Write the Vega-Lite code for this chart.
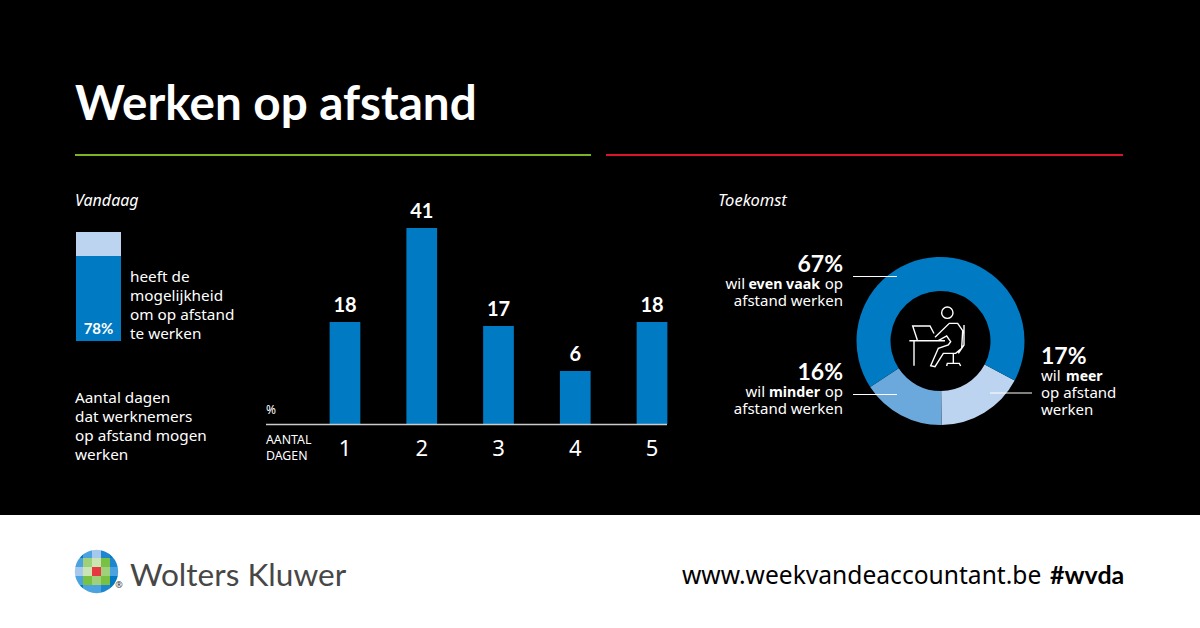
{
"$schema":"https://vega.github.io/schema/vega-lite/v6.json",
"width":1200,"height":628,"padding":0,"autosize":{"type":"none"},"background":"#000000",
"config":{"view":{"stroke":null},"axis":{"disable":true},"text":{"font":"Noto Sans","color":"#ffffff","baseline":"alphabetic","lineBreak":"\n"}},
"resolve":{"scale":{"x":"independent","y":"independent","color":"independent","theta":"independent"},"axis":{"x":"independent","y":"independent"}},
"layer":[
{"data":{"values":[{"dagen":1,"pct":18},{"dagen":2,"pct":41},{"dagen":3,"pct":17},{"dagen":4,"pct":6},{"dagen":5,"pct":18}]},
 "layer":[
 {"mark":{"type":"bar","color":"#007ac3"},"encoding":{
  "x":{"field":"dagen","type":"ordinal","scale":{"type":"band","domain":[1,2,3,4,5],"range":[306.6,690.4],"paddingInner":0.6,"paddingOuter":0.3},"axis":{"disable":false,"offset":-204,"orient":"bottom","domain":false,"ticks":false,"grid":false,"title":null,"labelAngle":0,"labelFontSize":22,"labelFont":"Noto Sans","labelColor":"#ffffff","labelPadding":14}},
  "y":{"field":"pct","type":"quantitative","scale":{"domain":[-7,41],"range":[424,228],"nice":false}},
  "y2":{"datum":-7}}},
 {"mark":{"type":"text","fontSize":20,"font":"Lato","fontWeight":"bold","dy":-10,"align":"center"},"encoding":{
  "x":{"field":"dagen","type":"ordinal","axis":{"disable":false,"offset":-204,"orient":"bottom","domain":false,"ticks":false,"grid":false,"title":null,"labelAngle":0,"labelFontSize":22,"labelFont":"Noto Sans","labelColor":"#ffffff","labelPadding":14}},
  "y":{"field":"pct","type":"quantitative"},
  "text":{"field":"pct","type":"quantitative"}}}
 ]},
{"data":{"values":[{"groep":"werknemers","deel":"mogelijkheid","pct":78,"volgorde":1},{"groep":"werknemers","deel":"rest","pct":22,"volgorde":2}]},
 "mark":{"type":"bar"},"encoding":{
  "x":{"field":"groep","type":"nominal","scale":{"range":[76,121],"paddingInner":0,"paddingOuter":0}},
  "y":{"field":"pct","type":"quantitative","stack":"zero","scale":{"domain":[0,100],"range":[341,232],"nice":false}},
  "order":{"field":"volgorde"},
  "color":{"field":"deel","type":"nominal","legend":null,"scale":{"domain":["mogelijkheid","rest"],"range":["#007ac3","#bcd4f0"]}}}},
{"data":{"values":[{"keuze":"meer","pct":17,"volgorde":1},{"keuze":"minder","pct":16,"volgorde":2},{"keuze":"even vaak","pct":67,"volgorde":3}]},
 "mark":{"type":"arc","innerRadius":50,"outerRadius":84},"encoding":{
  "theta":{"field":"pct","type":"quantitative","stack":true,"scale":{"domain":[0,100],"range":[2.06,8.343]}},
  "order":{"field":"volgorde"},
  "color":{"field":"keuze","type":"nominal","legend":null,"scale":{"domain":["meer","minder","even vaak"],"range":["#bcd4f0","#6ba9dc","#007ac3"]}},
  "x":{"datum":940.5,"type":"quantitative","scale":{"domain":[0,1200],"range":[0,1200],"nice":false}},
  "y":{"datum":341,"type":"quantitative","scale":{"domain":[0,628],"range":[0,628],"nice":false}}}},
{"data":{"values":[{}]},"layer":[
 {"mark":{"type":"rect","color":"#ffffff"},"encoding":{"x":{"datum":0,"type":"quantitative","scale":{"domain":[0,1200],"range":[0,1200],"nice":false}},"x2":{"datum":1200},"y":{"datum":515,"type":"quantitative","scale":{"domain":[0,628],"range":[0,628],"nice":false}},"y2":{"datum":628}}},
 {"mark":{"type":"rule","color":"#7cb320","strokeWidth":2},"encoding":{"x":{"datum":75},"x2":{"datum":591},"y":{"datum":155}}},
 {"mark":{"type":"rule","color":"#d8152a","strokeWidth":2},"encoding":{"x":{"datum":606},"x2":{"datum":1123},"y":{"datum":155}}},
 {"mark":{"type":"rule","color":"#cccccc","strokeWidth":1.5},"encoding":{"x":{"datum":266},"x2":{"datum":667},"y":{"datum":424.5}}},
 {"mark":{"type":"rule","color":"#ffffff","strokeWidth":1.2},"encoding":{"x":{"datum":853},"x2":{"datum":897},"y":{"datum":276.5}}},
 {"mark":{"type":"rule","color":"#ffffff","strokeWidth":1.2},"encoding":{"x":{"datum":853},"x2":{"datum":897},"y":{"datum":394.5}}},
 {"mark":{"type":"rule","color":"#ffffff","strokeWidth":1.2},"encoding":{"x":{"datum":990},"x2":{"datum":1032},"y":{"datum":393}}},
 {"mark":{"type":"point","filled":false,"stroke":"#ffffff","strokeWidth":1.4,"opacity":1,"size":2500,"shape":"M0.066,-1.133a0.227,0.227 0 1,0 0.454,0a0.227,0.227 0 1,0 -0.454,0M-0.907,-0.04L-1.093,-0.6L-0.4,-0.6L-0.24,-0.3M-1.227,-0.013L0.2,-0.013M-1.04,-0.013L-1.04,0.987M-0.2,-0.147L0.373,-0.707L0.707,-0.707L0.907,-0.413L0.867,0.293L0.627,0.493L0.133,0.493L-0.2,1.027L-0.373,0.987L-0.067,0.293L0.333,0.16L0.427,0.027L0.267,-0.2L-0.067,-0.013M0.96,-0.64L0.96,0.16L0.733,0.493M0.533,0.493L0.533,0.893M0.267,1L0.293,0.893L0.773,0.893L0.827,1"},"encoding":{"x":{"datum":940},"y":{"datum":341}}},
 {"mark":{"type":"text","fontSize":47.6,"font":"Lato","fontWeight":"bold","align":"left"},"encoding":{"x":{"datum":75},"y":{"datum":119.5},"text":{"value":"Werken op afstand"}}},
 {"mark":{"type":"text","fontSize":16,"fontStyle":"italic","align":"left"},"encoding":{"x":{"datum":75},"y":{"datum":206},"text":{"value":"Vandaag"}}},
 {"mark":{"type":"text","fontSize":16.5,"fontStyle":"italic","align":"left"},"encoding":{"x":{"datum":718},"y":{"datum":206},"text":{"value":"Toekomst"}}},
 {"mark":{"type":"text","fontSize":15,"font":"Lato","fontWeight":"bold","align":"center"},"encoding":{"x":{"datum":98.5},"y":{"datum":334},"text":{"value":"78%"}}},
 {"mark":{"type":"text","fontSize":15.3,"align":"left","lineHeight":19},"encoding":{"x":{"datum":130},"y":{"datum":282},"text":{"value":"heeft de\nmogelijkheid\nom op afstand\nte werken"}}},
 {"mark":{"type":"text","fontSize":15.3,"align":"left","lineHeight":19},"encoding":{"x":{"datum":75},"y":{"datum":403},"text":{"value":"Aantal dagen\ndat werknemers\nop afstand mogen\nwerken"}}},
 {"mark":{"type":"text","fontSize":12,"align":"left"},"encoding":{"x":{"datum":266},"y":{"datum":414},"text":{"value":"%"}}},
 {"mark":{"type":"text","fontSize":12.3,"align":"left","lineHeight":16},"encoding":{"x":{"datum":266},"y":{"datum":444},"text":{"value":"AANTAL\nDAGEN"}}},
 {"mark":{"type":"text","fontSize":23,"font":"Lato","fontWeight":"bold","align":"right"},"encoding":{"x":{"datum":843},"y":{"datum":272},"text":{"value":"67%"}}},
 {"mark":{"type":"text","fontSize":15,"align":"right"},"encoding":{"x":{"datum":745},"y":{"datum":289},"text":{"value":"wil"}}},
 {"mark":{"type":"text","fontSize":14.2,"fontWeight":"bold","align":"right"},"encoding":{"x":{"datum":820},"y":{"datum":289},"text":{"value":"even vaak"}}},
 {"mark":{"type":"text","fontSize":15,"align":"right"},"encoding":{"x":{"datum":843},"y":{"datum":289},"text":{"value":"op"}}},
 {"mark":{"type":"text","fontSize":15,"align":"right"},"encoding":{"x":{"datum":843},"y":{"datum":306},"text":{"value":"afstand werken"}}},
 {"mark":{"type":"text","fontSize":23,"font":"Lato","fontWeight":"bold","align":"right"},"encoding":{"x":{"datum":843},"y":{"datum":380},"text":{"value":"16%"}}},
 {"mark":{"type":"text","fontSize":15,"align":"right"},"encoding":{"x":{"datum":765},"y":{"datum":397},"text":{"value":"wil"}}},
 {"mark":{"type":"text","fontSize":14.2,"fontWeight":"bold","align":"right"},"encoding":{"x":{"datum":820},"y":{"datum":397},"text":{"value":"minder"}}},
 {"mark":{"type":"text","fontSize":15,"align":"right"},"encoding":{"x":{"datum":843},"y":{"datum":397},"text":{"value":"op"}}},
 {"mark":{"type":"text","fontSize":15,"align":"right"},"encoding":{"x":{"datum":843},"y":{"datum":414},"text":{"value":"afstand werken"}}},
 {"mark":{"type":"text","fontSize":23,"font":"Lato","fontWeight":"bold","align":"left"},"encoding":{"x":{"datum":1041},"y":{"datum":364},"text":{"value":"17%"}}},
 {"mark":{"type":"text","fontSize":15,"align":"left"},"encoding":{"x":{"datum":1041},"y":{"datum":381},"text":{"value":"wil"}}},
 {"mark":{"type":"text","fontSize":14,"fontWeight":"bold","align":"left"},"encoding":{"x":{"datum":1066},"y":{"datum":381},"text":{"value":"meer"}}},
 {"mark":{"type":"text","fontSize":15,"align":"left"},"encoding":{"x":{"datum":1041},"y":{"datum":398},"text":{"value":"op afstand"}}},
 {"mark":{"type":"text","fontSize":15,"align":"left"},"encoding":{"x":{"datum":1041},"y":{"datum":415},"text":{"value":"werken"}}},
 {"mark":{"type":"text","fontSize":31.6,"font":"Lato","fontWeight":400,"color":"#474747","align":"left"},"encoding":{"x":{"datum":130},"y":{"datum":586},"text":{"value":"Wolters Kluwer"}}},
 {"mark":{"type":"text","fontSize":24.6,"color":"#000000","align":"left"},"encoding":{"x":{"datum":682},"y":{"datum":584},"text":{"value":"www.weekvandeaccountant.be"}}},
 {"mark":{"type":"text","fontSize":25,"font":"Lato","fontWeight":"bold","color":"#000000","align":"left"},"encoding":{"x":{"datum":1050},"y":{"datum":584},"text":{"value":"#wvda"}}}
]},
{"data":{"values":[
 {"k":1,"r":1,"t":"diep"},{"k":2,"r":1,"t":"midden"},{"k":3,"r":1,"t":"licht"},{"k":4,"r":1,"t":"helder"},{"k":5,"r":1,"t":"diep"},
 {"k":1,"r":2,"t":"midden"},{"k":2,"r":2,"t":"groen2"},{"k":3,"r":2,"t":"groen3"},{"k":4,"r":2,"t":"groen1"},{"k":5,"r":2,"t":"helder"},
 {"k":1,"r":3,"t":"licht"},{"k":2,"r":3,"t":"groen3"},{"k":3,"r":3,"t":"rood"},{"k":4,"r":3,"t":"groen2"},{"k":5,"r":3,"t":"midden"},
 {"k":1,"r":4,"t":"midden"},{"k":2,"r":4,"t":"groen1"},{"k":3,"r":4,"t":"groen2"},{"k":4,"r":4,"t":"groen1"},{"k":5,"r":4,"t":"diep"},
 {"k":1,"r":5,"t":"diep"},{"k":2,"r":5,"t":"midden"},{"k":3,"r":5,"t":"midden"},{"k":4,"r":5,"t":"helder"},{"k":5,"r":5,"t":"diep"}]},
 "mark":{"type":"rect"},"encoding":{
  "x":{"field":"k","type":"ordinal","scale":{"type":"band","range":[74,119],"padding":0}},
  "y":{"field":"r","type":"ordinal","scale":{"type":"band","range":[549,594],"padding":0}},
  "color":{"field":"t","type":"nominal","legend":null,"scale":{"domain":["diep","helder","midden","licht","groen1","groen2","groen3","rood"],"range":["#0079c1","#1d86cf","#4aa3df","#a5c8ec","#78c142","#9fd07a","#cbe4b4","#e8383f"]}}}},
{"data":{"values":[{}]},"layer":[
 {"mark":{"type":"arc","innerRadius":21.7,"outerRadius":32,"color":"#ffffff"},"encoding":{"x":{"datum":96.5,"type":"quantitative","scale":{"domain":[0,1200],"range":[0,1200],"nice":false}},"y":{"datum":571.5,"type":"quantitative","scale":{"domain":[0,628],"range":[0,628],"nice":false}}}},
 {"mark":{"type":"text","fontSize":9,"color":"#333333","align":"center"},"encoding":{"x":{"datum":119},"y":{"datum":588},"text":{"value":"®"}}}
]}
]}
